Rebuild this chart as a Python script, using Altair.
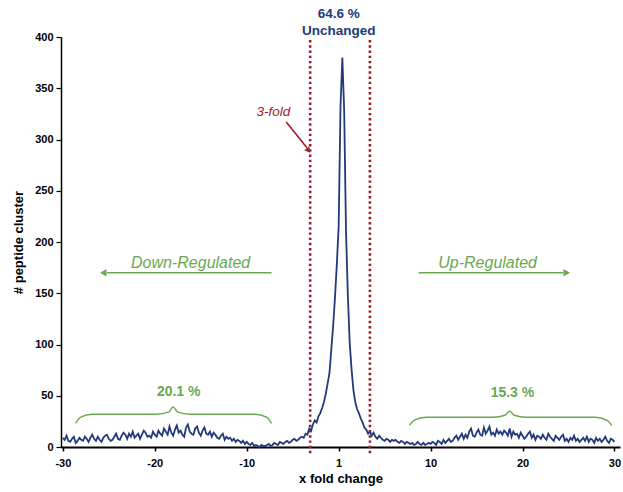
import altair as alt
import pandas as pd

# Histogram of peptide-cluster fold changes (bin centres every 0.2 units, -30 .. 30)
bin_start = -30.0
bin_step = 0.2
counts = [
    9, 7, 11, 6, 5, 8, 10, 4, 6, 9,
    7, 6, 10, 8, 5, 9, 12, 8, 6, 10,
    7, 5, 9, 11, 12, 8, 6, 7, 10, 13,
    8, 7, 11, 14, 12, 8, 13, 10, 15, 9,
    11, 13, 8, 12, 16, 14, 10, 11, 9, 15,
    12, 10, 16, 13, 11, 18, 15, 12, 20, 14,
    11, 17, 21, 14, 16, 12, 10, 19, 22, 15,
    13, 12, 18, 20, 14, 11, 16, 19, 13, 12,
    15, 10, 14, 12, 9, 8, 11, 13, 7, 10,
    8, 9, 6, 8, 5, 7, 6, 4, 6, 3,
    5, 3, 2, 4, 1, 2, 1, 0, 2, 1,
    1, 2, 3, 1, 2, 4, 3, 2, 5, 4,
    3, 5, 6, 4, 5, 7, 8, 6, 7, 9,
    10, 9, 13, 12, 18, 16, 22, 26, 24, 30,
    33, 38, 44, 52, 62, 72, 95, 118, 146, 178,
    215, 332, 380, 328, 210, 148, 102, 76, 56, 44,
    37, 33, 28, 24, 19, 17, 13, 15, 11, 14,
    10, 8, 11, 9, 7, 6, 8, 7, 5, 7,
    6, 7, 5, 4, 6, 5, 3, 5, 4, 3,
    4, 2, 3, 5, 3, 2, 4, 2, 3, 4,
    3, 5, 4, 2, 6, 5, 3, 7, 4, 6,
    8, 5, 6, 9, 11, 7, 10, 13, 8, 12,
    9, 15, 18, 11, 10, 14, 17, 12, 11, 19,
    13, 16, 20, 12, 14, 11, 17, 13, 15, 12,
    16, 14, 11, 18, 10, 15, 12, 13, 9, 14,
    11, 8, 10, 13, 15, 9, 12, 7, 11, 10,
    8, 12, 9, 7, 13, 10, 8, 6, 11, 9,
    7, 10, 12, 6, 8, 5, 9, 7, 11, 6,
    8, 5, 7, 9, 6, 10, 5, 8, 7, 4,
    9, 6, 8, 5, 7, 10, 6, 4, 8, 7, 5,
]
x_ticks = [-30, -20, -10, 0, 10, 20, 30]
fold_lines = [-3.1, 3.4]

NAVY = "#233a7a"
RED = "#9b1c2c"
GREEN = "#6aa84f"
FONT = "Liberation Sans"

hist = pd.DataFrame({
    "pos": [round(bin_start + i * bin_step, 2) for i in range(len(counts))],
    "count": counts,
})

x_scale = alt.Scale(domain=[-30.2, 30.6], nice=False, zero=False)
y_scale = alt.Scale(domain=[0, 400], nice=False)

x_axis = alt.Axis(
    title="x fold change", values=x_ticks,
    labelExpr="datum.value === 0 ? '1' : '' + datum.value",
    grid=False, domainColor="black", domainWidth=2.2, tickColor="black",
    tickSize=4, tickWidth=1.5, labelPadding=6, labelFont=FONT, labelFontSize=11,
    labelFontWeight="bold", labelColor="black", titleFont=FONT, titleFontSize=13,
    titleFontWeight="bold", titleColor="black", titlePadding=4,
)
y_axis = alt.Axis(
    title="# peptide cluster", values=list(range(0, 401, 50)),
    grid=False, domainColor="black", domainWidth=1.5, tickColor="black",
    tickSize=5, tickWidth=1.2, labelPadding=3, labelFont=FONT, labelFontSize=11,
    labelFontWeight="bold", labelColor="black", titleFont=FONT, titleFontSize=13,
    titleFontWeight="bold", titleColor="black", titlePadding=9,
)

curve = alt.Chart(hist).mark_line(color=NAVY, strokeWidth=1.8).encode(
    x=alt.X("pos:Q", scale=x_scale, axis=x_axis),
    y=alt.Y("count:Q", scale=y_scale, axis=y_axis),
)

# 3-fold threshold lines
thresholds = alt.Chart(pd.DataFrame({"pos": fold_lines, "top": 397, "bottom": -8})).mark_rule(
    color=RED, strokeWidth=2.6, strokeDash=[2.4, 2.8], strokeCap="butt"
).encode(x="pos:Q", y="top:Q", y2="bottom:Q")


def label(df, color, size, weight="normal", style="normal"):
    return alt.Chart(pd.DataFrame(df)).mark_text(
        color=color, font=FONT, fontSize=size, fontWeight=weight, fontStyle=style,
        align="center", baseline="middle",
    ).encode(x="pos:Q", y="val:Q", text="txt:N")


unchanged = label({"pos": [0.0, 0.0], "val": [422, 406], "txt": ["64.6 %", "Unchanged"]},
                  NAVY, 13.5, weight="bold")
fold_txt = label({"pos": [-7.1], "val": [327], "txt": ["3-fold"]}, RED, 13.5, style="italic")
reg_txt = label({"pos": [-16.1, 16.2], "val": [180, 180],
                 "txt": ["Down-Regulated", "Up-Regulated"]}, GREEN, 16, style="italic")
pct_txt = label({"pos": [-17.4, 18.9], "val": [54, 53], "txt": ["20.1 %", "15.3 %"]},
                GREEN, 14, weight="bold")

# direction arrows
arrows = pd.DataFrame({
    "x": [-7.3, 8.7], "x2": [-25.2, 24.4], "y": [170, 170],
    "tip": [-25.6, 24.8], "shape": ["triangle-left", "triangle-right"],
})
arrow_lines = alt.Chart(arrows).mark_rule(color=GREEN, strokeWidth=1.6).encode(
    x="x:Q", x2="x2:Q", y="y:Q")
arrow_heads = alt.Chart(arrows).mark_point(
    color=GREEN, filled=True, opacity=1, size=55
).encode(x="tip:Q", y="y:Q", shape=alt.Shape("shape:N", scale=None, legend=None))

fold_arrow = pd.DataFrame({"x": [-5.7], "y": [317], "x2": [-3.45], "y2": [292]})
fold_line = alt.Chart(fold_arrow).mark_rule(color=RED, strokeWidth=1.6).encode(
    x="x:Q", y="y:Q", x2="x2:Q", y2="y2:Q")
fold_head = alt.Chart(pd.DataFrame({"x": [-3.35], "y": [290]})).mark_point(
    shape="triangle", angle=142, color=RED, filled=True, opacity=1, size=40
).encode(x="x:Q", y="y:Q")

# curly braces spanning the regulated regions: (start, centre, end, end-y, bar-y, tip-y)
brace_specs = [
    ("down", -28.6, -18.0, -7.3, 23, 32, 39),
    ("up", 7.7, 18.6, 29.7, 21, 29, 35),
]
brace_rows = []
for name, a, c, b, e, h, t in brace_specs:
    xs = [a, a + 0.5, a + 1.8, c - 1.8, c - 0.5, c, c + 0.5, c + 1.8, b - 1.8, b - 0.5, b]
    ys = [e, h - 3, h, h, h + 2, t, h + 2, h, h, h - 3, e]
    brace_rows += [{"brace": name, "x": x, "y": y} for x, y in zip(xs, ys)]
braces = alt.Chart(pd.DataFrame(brace_rows)).mark_line(
    color=GREEN, strokeWidth=1.4, interpolate="monotone"
).encode(x="x:Q", y="y:Q", detail="brace:N")

chart = alt.layer(
    thresholds, curve, unchanged, fold_txt, fold_line, fold_head,
    reg_txt, arrow_lines, arrow_heads, pct_txt, braces,
).properties(
    width=559, height=410,
    autosize=alt.AutoSizeParams(type="none"),
    padding={"left": 61, "top": 37, "right": 3, "bottom": 45},
    background="white",
).configure_view(stroke=None)

chart.save("out.html", embed_options={"renderer": "svg", "actions": False})
